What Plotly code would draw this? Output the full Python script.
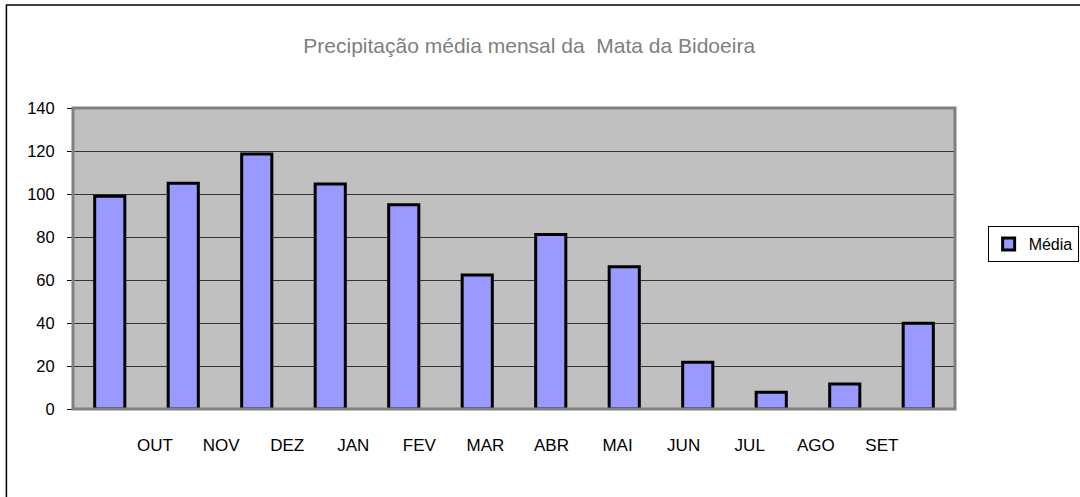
import plotly.graph_objects as go

# Monthly mean precipitation, hydrological year (October to September)
meses = ["OUT", "NOV", "DEZ", "JAN", "FEV", "MAR", "ABR", "MAI", "JUN", "JUL", "AGO", "SET"]
media = [99, 105, 118.6, 104.7, 95, 62.3, 81.2, 66.2, 21.8, 7.8, 11.6, 39.9]
y_ticks = [0, 20, 40, 60, 80, 100, 120, 140]

FONT = "Liberation Sans, Arial, sans-serif"

idx = list(range(len(meses)))

fig = go.Figure()
fig.add_trace(go.Bar(
    x=idx,
    y=media,
    name="Média",
    width=0.41,
    marker=dict(color="#9999FF", line=dict(color="#000000", width=3)),
    showlegend=True,
))

# Month labels sit on their own evenly spaced row under the plot area
label_start, label_step = 0.616, 0.899
tick_pos = [label_start + i * label_step for i in idx]

fig.update_layout(
    width=1080,
    height=497,
    margin=dict(l=73, r=125, t=108, b=88, autoexpand=False),
    paper_bgcolor="#FFFFFF",
    plot_bgcolor="#C0C0C0",
    font=dict(family=FONT, size=17, color="#000000"),
    title=dict(
        text="Precipitação média mensal da  Mata da Bidoeira",
        x=0.49, xanchor="center", y=0.909, yanchor="middle",
        font=dict(family=FONT, size=21, color="#808080"),
    ),
    xaxis=dict(
        range=[-0.5, len(meses) - 0.5],
        tickmode="array",
        tickvals=tick_pos,
        ticktext=meses,
        ticks="",
        showgrid=False,
        zeroline=False,
        showline=False,
        ticklabelstandoff=24,
        tickfont=dict(family=FONT, size=17),
        fixedrange=True,
    ),
    yaxis=dict(
        range=[0, 140],
        tickmode="array",
        tickvals=y_ticks,
        ticks="outside",
        ticklen=5,
        tickcolor="#000000",
        tickwidth=1,
        showgrid=True,
        gridcolor="#333333",
        gridwidth=1,
        zeroline=False,
        showline=True,
        linecolor="#000000",
        linewidth=1,
        ticklabelstandoff=9,
        tickfont=dict(family=FONT, size=16.5),
        fixedrange=True,
    ),
    legend=dict(
        x=1.037, y=0.608, xanchor="left", yanchor="top",
        bgcolor="#FFFFFF",
        bordercolor="#000000",
        borderwidth=1,
        font=dict(family=FONT, size=16, color="#000000"),
        itemwidth=30,
        tracegroupgap=0,
    ),
    shapes=[
        # gray frame around the plot area
        dict(type="rect", xref="paper", yref="paper", x0=0, y0=0, x1=1, y1=1,
             line=dict(color="#808080", width=3), layer="above"),
        # outer chart border
        dict(type="rect", xref="paper", yref="paper",
             x0=-0.0755, y0=-0.34, x1=1.16, y1=1.3425,
             line=dict(color="#000000", width=1.5), layer="above"),
    ],
)

fig.write_html("out.html")
